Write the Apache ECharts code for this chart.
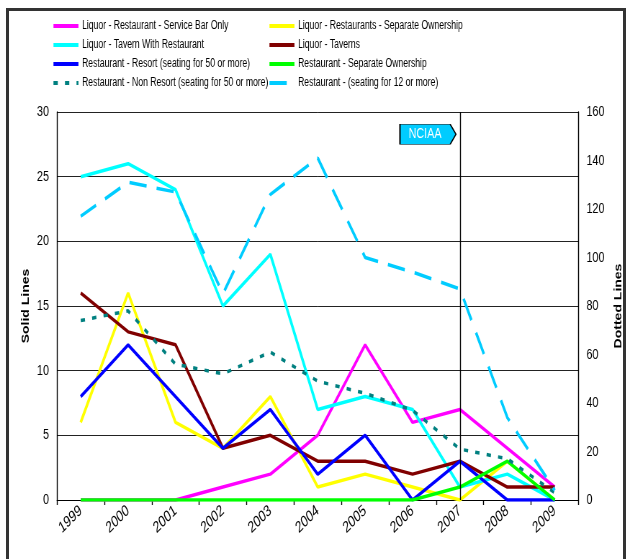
<!DOCTYPE html>
<html>
<head>
<meta charset="utf-8">
<script src="https://cdn.jsdelivr.net/npm/echarts@6/dist/echarts.min.js"></script>
<style>
  html, body { margin: 0; padding: 0; background: #fff; overflow: hidden; }
  #frame { position: absolute; left: 6px; top: 8px; width: 620px; height: 560px; border: 3px solid #333; border-bottom: none; box-sizing: border-box; }
  #chart { position: absolute; left: 0; top: 0; height: 559px; transform-origin: 0 0; }
</style>
</head>
<body>
<div id="frame"></div>
<div id="chart"></div>
<script>
const years = ['1999','2000','2001','2002','2003','2004','2005','2006','2007','2008','2009'];
const leftTicks = [0, 30, 5];   // min, max, interval (Solid Lines)
const rightTicks = [0, 160, 20]; // min, max, interval (Dotted Lines)

const serviceBarOnly      = [0, 0, 0, 1, 2, 5, 12, 6, 7, 4, 1];
const restSepOwnershipLq  = [6, 16, 6, 4, 8, 1, 2, 1, 0, 3, 0];
const tavernWithRest      = [25, 26, 24, 15, 19, 7, 8, 7, 1, 2, 0];
const taverns             = [16, 13, 12, 4, 5, 3, 3, 2, 3, 1, 1];
const resort50            = [8, 12, 8, 4, 7, 2, 5, 0, 3, 0, 0];
const restSepOwnership    = [0, 0, 0, 0, 0, 0, 0, 0, 1, 3, 0];
const nonResort50         = [74, 78, 56, 52, 61, 49, 44, 37, 21, 17, 3];
const seating12           = [117, 131, 127, 85, 126, 141, 100, 94, 87, 34, 4];

const names = [
  'Liquor - Restaurant - Service Bar Only',
  'Liquor - Restaurants - Separate Ownership',
  'Liquor - Tavern With Restaurant',
  'Liquor - Taverns',
  'Restaurant - Resort (seating for 50 or more)',
  'Restaurant - Separate Ownership',
  'Restaurant - Non Resort (seating for 50 or more)',
  'Restaurant - (seating for 12 or more)'
];

// The reference chart is horizontally condensed; draw wider and condense with CSS.
const S = 0.72;
const W = 629;
const hx = v => v / S;   // horizontal size in the un-condensed drawing
const el = document.getElementById('chart');
el.style.width = Math.round(W / S) + 'px';
el.style.transform = 'scaleX(' + S + ')';

const FONT = '"Liberation Sans", Arial, sans-serif';

function solid(name, data, color) {
  return {
    name, type: 'line', data, yAxisIndex: 0, symbol: 'none',
    lineStyle: { color, width: 3.5 }, itemStyle: { color }
  };
}

const chart = echarts.init(el);
const legendCommon = {
  orient: 'vertical', top: 20, padding: 0,
  itemWidth: hx(25), itemHeight: 12, itemGap: 7,
  itemStyle: { opacity: 0, borderWidth: 0 },
  lineStyle: { width: 4 },
  textStyle: { fontFamily: FONT, fontSize: 12, color: '#000' },
  selectedMode: false
};
chart.setOption({
  animation: false,
  backgroundColor: 'transparent',
  textStyle: { fontFamily: FONT, color: '#000' },
  legend: [
    Object.assign({ data: [names[0], names[2], names[4], names[6]], left: hx(52) }, legendCommon),
    Object.assign({ data: [names[1], names[3], names[5], names[7]], left: hx(268) }, legendCommon)
  ],
  grid: { left: hx(57), right: hx(50), top: 112, bottom: 59 },
  xAxis: {
    type: 'category', data: years, boundaryGap: true,
    axisLine: { lineStyle: { color: '#000', width: 1 } },
    axisTick: { show: true, length: 5, lineStyle: { color: '#000', width: 1.4 } },
    axisLabel: { rotate: 36, margin: 9, fontSize: 16, color: '#000', fontFamily: FONT },
    splitLine: { show: false }
  },
  yAxis: [
    {
      type: 'value', min: leftTicks[0], max: leftTicks[1], interval: leftTicks[2],
      name: 'Solid Lines', nameLocation: 'middle', nameGap: hx(26), nameRotate: 90,
      nameMoveOverlap: false,
      nameTextStyle: { fontWeight: 'bold', fontSize: 14, fontFamily: FONT, color: '#000' },
      axisLine: { show: true, lineStyle: { color: '#000', width: 1.4 } },
      axisTick: { show: false },
      axisLabel: { fontSize: 15, margin: hx(8), color: '#000' },
      splitLine: { show: true, lineStyle: { color: '#222', width: 1 } }
    },
    {
      type: 'value', min: rightTicks[0], max: rightTicks[1], interval: rightTicks[2],
      name: 'Dotted Lines', nameLocation: 'middle', nameGap: hx(35), nameRotate: 90,
      nameMoveOverlap: false,
      nameTextStyle: { fontWeight: 'bold', fontSize: 14, fontFamily: FONT, color: '#000' },
      axisLine: { show: true, lineStyle: { color: '#000', width: 1.4 } },
      axisTick: { show: false },
      axisLabel: { fontSize: 15, margin: hx(8), color: '#000' },
      splitLine: { show: false }
    }
  ],
  series: [
    solid(names[0], serviceBarOnly, '#FF00FF'),
    solid(names[1], restSepOwnershipLq, '#FFFF00'),
    solid(names[2], tavernWithRest, '#00FFFF'),
    solid(names[3], taverns, '#800000'),
    solid(names[4], resort50, '#0000FF'),
    solid(names[5], restSepOwnership, '#00FF00'),
    {
      name: names[6], type: 'line', data: nonResort50, yAxisIndex: 1, symbol: 'none',
      lineStyle: { color: '#008080', width: 3.5, type: [6, 10] }, itemStyle: { color: '#008080' }
    },
    {
      name: names[7], type: 'line', data: seating12, yAxisIndex: 1, symbol: 'none',
      lineStyle: { color: '#00CCFF', width: 3.5, type: [24, 14] }, itemStyle: { color: '#00CCFF' },
      markLine: {
        silent: true, symbol: ['none', 'none'], animation: false,
        label: { show: false },
        lineStyle: { color: '#000', width: 1.4, type: 'solid' },
        data: [{ xAxis: '2007' }]
      },
      markPoint: {
        silent: true, animation: false,
        symbol: 'path://M0,0 L70,0 L78,10 L70,20 L0,20 Z',
        symbolSize: [hx(56), 20], symbolKeepAspect: false,
        symbolOffset: [-hx(32), -2],
        itemStyle: { color: '#00CCFF', borderColor: '#000', borderWidth: 1 },
        label: { show: true, formatter: 'NCIAA', color: '#fff', fontSize: 15, fontFamily: FONT, offset: [-4, 0] },
        data: [{ coord: ['2007', 150] }]
      }
    }
  ]
});
</script>
</body>
</html>
